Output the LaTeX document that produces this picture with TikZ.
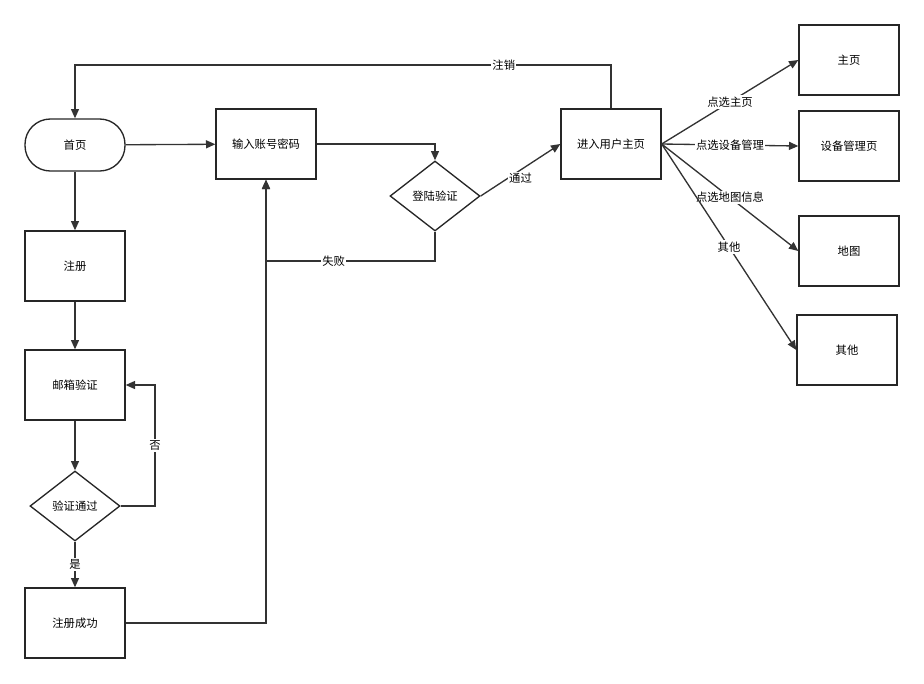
\documentclass[tikz,border=0pt]{standalone}
\usepackage{fontspec}
\setmainfont{Noto Sans CJK SC}
\usetikzlibrary{shapes.geometric,arrows.meta}
\begin{document}
\begin{tikzpicture}[x=0.75pt,y=-0.75pt,
  font=\fontsize{8.5}{10}\selectfont,
  box/.style={draw=black!85,line width=1pt,minimum width=75pt,minimum height=52.5pt,inner sep=0pt},
  dia/.style={draw=black!85,line width=1pt,diamond,aspect=1.3,minimum width=67.5pt,minimum height=52.5pt,inner sep=0pt},
  ar/.style={draw=black!80,line width=1pt,-{Triangle[length=7pt,width=6pt]}},
  lab/.style={fill=white,inner sep=1pt}]
\useasboundingbox (0,0) rectangle (924,683);
\node[box,rounded corners=19pt,minimum height=39pt] (home) at (75,145) {首页};
\node[box] (login) at (266,144) {输入账号密码};
\node[dia] (verify) at (435,196) {登陆验证};
\node[box] (user) at (611,144) {进入用户主页};
\node[box] (main) at (849,60) {主页};
\node[box] (dev) at (849,146) {设备管理页};
\node[box] (map) at (849,251) {地图};
\node[box] (other) at (847,350) {其他};
\node[box] (reg) at (75,266) {注册};
\node[box] (mail) at (75,385) {邮箱验证};
\node[dia] (pass) at (75,506) {验证通过};
\node[box] (ok) at (75,623) {注册成功};
\coordinate (c1) at (435,144);
\coordinate (c2) at (435,261);
\coordinate (c3) at (266,261);
\coordinate (c4) at (611,65);
\coordinate (c5) at (75,65);
\coordinate (c6) at (155,506);
\coordinate (c7) at (155,385);
\coordinate (c8) at (266,623);
\draw[ar] (home) -- (login);
\draw[ar] (login.east) -- (c1) -- (verify.north);
\draw[ar] (verify.east) -- node[lab,pos=0.5,below=1pt]{通过} (user.west);
\draw[ar] (verify.south) -- (c2) -- node[lab,pos=0.6]{失败} (c3) -- (login.south);
\draw[ar] (user.north) -- (c4) -- node[lab,pos=0.2]{注销} (c5) -- (home.north);
\draw[ar] (user.east) -- node[lab,pos=0.5]{点选主页} (main.west);
\draw[ar] (user.east) -- node[lab,pos=0.5]{点选设备管理} (dev.west);
\draw[ar] (user.east) -- node[lab,pos=0.5]{点选地图信息} (map.west);
\draw[ar] (user.east) -- node[lab,pos=0.5]{其他} (other.west);
\draw[ar] (home) -- (reg);
\draw[ar] (reg) -- (mail);
\draw[ar] (mail) -- (pass);
\draw[ar] (pass) -- node[lab,pos=0.5]{是} (ok);
\draw[ar] (pass.east) -- (c6) -- node[lab,pos=0.5]{否} (c7) -- (mail.east);
\draw[ar] (ok.east) -- (c8) -- (login.south);
\end{tikzpicture}
\end{document}
